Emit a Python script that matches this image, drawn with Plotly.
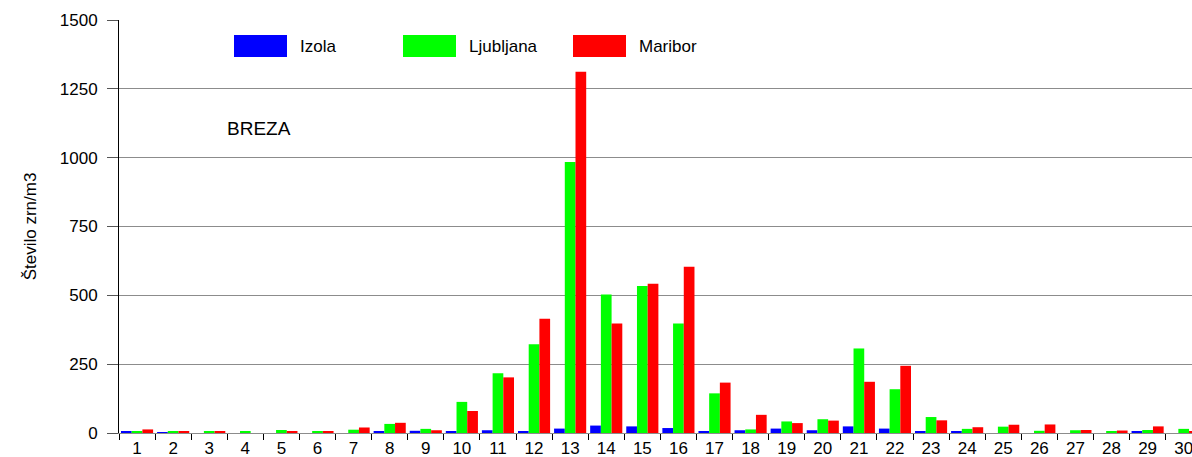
import plotly.graph_objects as go

# Daily birch pollen counts (grains per m3) for three monitoring stations
days = [str(d) for d in range(1, 31)]
stations = ["Izola", "Ljubljana", "Maribor"]
colors = ["#0000FF", "#00FF00", "#FF0000"]

izola = [4, 3, 0, 0, 0, 0, 0, 4, 8, 7, 10, 5, 16, 27, 24, 18, 5, 10, 16, 10,
         24, 16, 4, 5, 0, 0, 0, 0, 5, 0]
ljubljana = [4, 7, 7, 5, 11, 7, 12, 33, 15, 113, 217, 322, 984, 503, 534, 398, 144, 13, 42, 50,
             307, 159, 58, 15, 23, 8, 10, 5, 11, 15]
maribor = [13, 7, 5, 0, 6, 7, 20, 37, 10, 80, 202, 415, 1312, 398, 542, 604, 183, 66, 36, 45,
           186, 244, 46, 21, 30, 31, 11, 9, 24, 5]
series = [izola, ljubljana, maribor]

y_ticks = [0, 250, 500, 750, 1000, 1250, 1500]

FONT = "Liberation Sans, Arial, sans-serif"
W, H = 1192, 457
L, R, T, B = 119, 0, 20, 24
PW, PH = W - L - R, H - T - B


def px_x(x):
    return (x - L) / PW


def px_y(y):
    return 1 - (y - T) / PH


fig = go.Figure()
for name, vals, col in zip(stations, series, colors):
    fig.add_trace(go.Bar(x=days, y=vals, name=name, marker=dict(color=col, line=dict(width=0)),
                         showlegend=False))

# Legend drawn as wide colour swatches with labels inside the plot area
swatch_left = [234, 403, 573]
shapes = []
annotations = []
for name, col, x0 in zip(stations, colors, swatch_left):
    shapes.append(dict(type="rect", xref="paper", yref="paper",
                       x0=px_x(x0), x1=px_x(x0 + 53), y0=px_y(57), y1=px_y(35),
                       fillcolor=col, line=dict(width=0), layer="above"))
    annotations.append(dict(xref="paper", yref="paper", x=px_x(x0 + 64), y=px_y(46),
                            xanchor="left", yanchor="middle", text=name, showarrow=False,
                            font=dict(family=FONT, size=17, color="#000000")))

annotations.append(dict(xref="paper", yref="paper", x=px_x(225), y=px_y(128),
                        xanchor="left", yanchor="middle", text="BREZA", showarrow=False,
                        font=dict(family=FONT, size=19, color="#000000")))

fig.update_layout(
    width=W, height=H,
    margin=dict(l=L, r=R, t=T, b=B, pad=0),
    paper_bgcolor="#FFFFFF", plot_bgcolor="#FFFFFF",
    barmode="group", bargap=0.11, bargroupgap=0,
    font=dict(family=FONT, size=17, color="#000000"),
    shapes=shapes, annotations=annotations,
    xaxis=dict(
        type="category", range=[-0.5, 29.23],
        tickson="boundaries", ticks="outside", ticklen=6, tickcolor="#000000", tickwidth=1,
        showline=True, linecolor="#8C8C8C", linewidth=1,
        showgrid=False, zeroline=False,
        tickfont=dict(family=FONT, size=17),
    ),
    yaxis=dict(
        range=[0, 1500], tickvals=y_ticks, ticks="outside", ticklen=11,
        tickcolor="#555555", tickwidth=1,
        showline=True, linecolor="#000000", linewidth=1,
        showgrid=True, gridcolor="#8C8C8C", gridwidth=1, zeroline=False,
        tickfont=dict(family=FONT, size=17),
        ticklabelstandoff=6,
        title=dict(text="Število zrn/m3", standoff=18, font=dict(family=FONT, size=17)),
    ),
)

fig.write_html("out.html")
